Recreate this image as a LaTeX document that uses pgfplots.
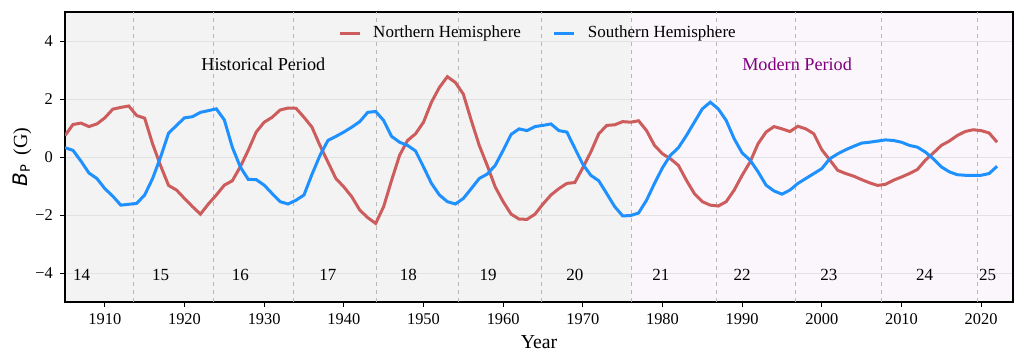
\documentclass[border=0pt]{standalone}
\usepackage{pgfplots}
\pgfplotsset{compat=1.18}
\usepackage{pgfplotstable}
\usepackage{fontspec}
\setmainfont{Liberation Serif}
\newfontfamily\dejavu{DejaVu Sans}
\definecolor{nred}{HTML}{CD5C5C}
\definecolor{sblue}{HTML}{1E90FF}
\definecolor{histbg}{HTML}{F3F3F3}
\definecolor{modbg}{HTML}{FBF6FB}
\definecolor{modtxt}{HTML}{800080}
\definecolor{gridc}{HTML}{E2E2E2}
\definecolor{cyc}{HTML}{B8B8B8}

\pgfplotstableread{
Year N S
1905 0.74 0.32
1906 1.12 0.23
1907 1.17 -0.14
1908 1.05 -0.55
1909 1.14 -0.74
1910 1.35 -1.09
1911 1.65 -1.35
1912 1.71 -1.66
1913 1.76 -1.63
1914 1.43 -1.60
1915 1.34 -1.31
1916 0.45 -0.74
1917 -0.30 0.00
1918 -0.98 0.82
1919 -1.14 1.09
1920 -1.43 1.35
1921 -1.71 1.39
1922 -1.97 1.54
1923 -1.62 1.60
1924 -1.31 1.66
1925 -0.97 1.28
1926 -0.82 0.34
1927 -0.34 -0.34
1928 0.23 -0.77
1929 0.86 -0.78
1930 1.20 -0.97
1931 1.37 -1.26
1932 1.62 -1.54
1933 1.69 -1.62
1934 1.68 -1.49
1935 1.37 -1.31
1936 1.03 -0.60
1937 0.40 0.05
1938 -0.17 0.57
1939 -0.74 0.71
1940 -1.03 0.86
1941 -1.37 1.03
1942 -1.83 1.22
1943 -2.09 1.54
1944 -2.29 1.57
1945 -1.71 1.26
1946 -0.80 0.71
1947 0.06 0.51
1948 0.57 0.40
1949 0.80 0.21
1950 1.20 -0.34
1951 1.89 -0.91
1952 2.40 -1.31
1953 2.77 -1.54
1954 2.57 -1.62
1955 2.17 -1.43
1956 1.26 -1.09
1957 0.40 -0.74
1958 -0.29 -0.59
1959 -1.03 -0.29
1960 -1.54 0.23
1961 -1.97 0.78
1962 -2.14 0.97
1963 -2.15 0.91
1964 -1.97 1.05
1965 -1.62 1.09
1966 -1.31 1.14
1967 -1.09 0.91
1968 -0.91 0.86
1969 -0.88 0.30
1970 -0.37 -0.25
1971 0.17 -0.63
1972 0.80 -0.82
1973 1.09 -1.26
1974 1.11 -1.71
1975 1.22 -2.03
1976 1.20 -2.02
1977 1.25 -1.93
1978 0.91 -1.49
1979 0.40 -0.91
1980 0.11 -0.37
1981 -0.06 0.06
1982 -0.29 0.32
1983 -0.80 0.74
1984 -1.26 1.20
1985 -1.54 1.66
1986 -1.66 1.89
1987 -1.69 1.66
1988 -1.54 1.26
1989 -1.14 0.63
1990 -0.63 0.14
1991 -0.17 -0.11
1992 0.46 -0.51
1993 0.86 -0.97
1994 1.05 -1.17
1995 0.97 -1.28
1996 0.88 -1.14
1997 1.06 -0.91
1998 0.97 -0.74
1999 0.80 -0.57
2000 0.25 -0.40
2001 -0.10 -0.06
2002 -0.46 0.11
2003 -0.57 0.25
2004 -0.66 0.37
2005 -0.78 0.48
2006 -0.89 0.51
2007 -0.98 0.55
2008 -0.94 0.59
2009 -0.80 0.57
2010 -0.69 0.51
2011 -0.57 0.40
2012 -0.43 0.34
2013 -0.11 0.17
2014 0.14 -0.06
2015 0.40 -0.34
2016 0.55 -0.51
2017 0.74 -0.61
2018 0.88 -0.63
2019 0.94 -0.63
2020 0.91 -0.63
2021 0.83 -0.57
2022 0.51 -0.32
}\bpdata

\begin{document}
\begin{tikzpicture}
\begin{axis}[
  set layers,
  scale only axis, width=474pt, height=145pt,
  xmin=1905, xmax=2024, ymin=-5, ymax=5,
  xtick={1910,1920,...,2020},
  ytick={-4,-2,0,2,4},
  yticklabels={−4,−2,0,2,4},
  /pgf/number format/assume math mode=true,
  /pgf/number format/set thousands separator={},
  ymajorgrids,
  major grid style={gridc, line width=0.5pt},
  tick align=outside, major tick length=2.5pt,
  tick style={black, line width=0.5pt},
  xtick pos=bottom, ytick pos=left,
  axis line style={black, line width=0.9pt},
  tick label style={font=\fontsize{8.2}{9}\selectfont},
  xlabel={Year},
  xlabel style={font=\fontsize{9.9}{11}\selectfont, at={(axis description cs:0.5,-0.1366)}, anchor=center},
  ylabel={{\dejavu\itshape B}{\dejavu\fontsize{6.5}{7}\selectfont\raisebox{-0.4ex}{P}}\ \ (G)},
  ylabel style={font=\fontsize{10}{12}\selectfont, at={(axis description cs:-0.0454,0.5)}, anchor=center},
  legend style={at={(axis description cs:0.5,0.9276)}, anchor=center, draw=none, fill=none,
    font=\fontsize{8.5}{10}\selectfont,
    /tikz/every odd column/.append style={column sep=4pt},
    /tikz/every even column/.append style={column sep=14pt}},
  legend columns=2,
  legend image code/.code={\draw[#1] (0pt,0pt) -- (10pt,0pt);},
  clip=true,
]
\begin{pgfonlayer}{axis background}
\fill[histbg] (axis cs:1905,-5) rectangle (axis cs:1976.1,5);
\fill[modbg] (axis cs:1976.1,-5) rectangle (axis cs:2024,5);
\end{pgfonlayer}
\pgfplotsinvokeforeach{1913.6,1923.7,1933.7,1944.1,1954.4,1964.8,1976.1,1986.8,1996.7,2007.5,2019.5}{
  \draw[cyc, dash pattern=on 2pt off 2pt, line width=0.5pt] (axis cs:#1,-5) -- (axis cs:#1,5);
}
\addplot[nred, line width=1.5pt] table[x=Year, y=N]{\bpdata};
\addlegendentry{Northern Hemisphere}
\addplot[sblue, line width=1.5pt] table[x=Year, y=S]{\bpdata};
\addlegendentry{Southern Hemisphere}
\node[font=\fontsize{9.1}{11}\selectfont] at (axis cs:1929.9,3.2) {Historical Period};
\node[font=\fontsize{9.1}{11}\selectfont, text=modtxt] at (axis cs:1996.9,3.2) {Modern Period};
\begin{scope}[every node/.style={font=\fontsize{8.5}{10}\selectfont}]
\node at (axis cs:1907.1,-4.06) {14};
\node at (axis cs:1917.0,-4.06) {15};
\node at (axis cs:1927.0,-4.06) {16};
\node at (axis cs:1938.0,-4.06) {17};
\node at (axis cs:1948.1,-4.06) {18};
\node at (axis cs:1958.1,-4.06) {19};
\node at (axis cs:1969.0,-4.06) {20};
\node at (axis cs:1979.8,-4.06) {21};
\node at (axis cs:1990.0,-4.06) {22};
\node at (axis cs:2000.9,-4.06) {23};
\node at (axis cs:2012.9,-4.06) {24};
\node at (axis cs:2020.8,-4.06) {25};
\end{scope}
\end{axis}
\pgfresetboundingbox
\path[use as bounding box] ([xshift=-32.5pt,yshift=-30.5pt]current axis.south west) rectangle ([xshift=5.5pt,yshift=6pt]current axis.north east);
\end{tikzpicture}
\end{document}
